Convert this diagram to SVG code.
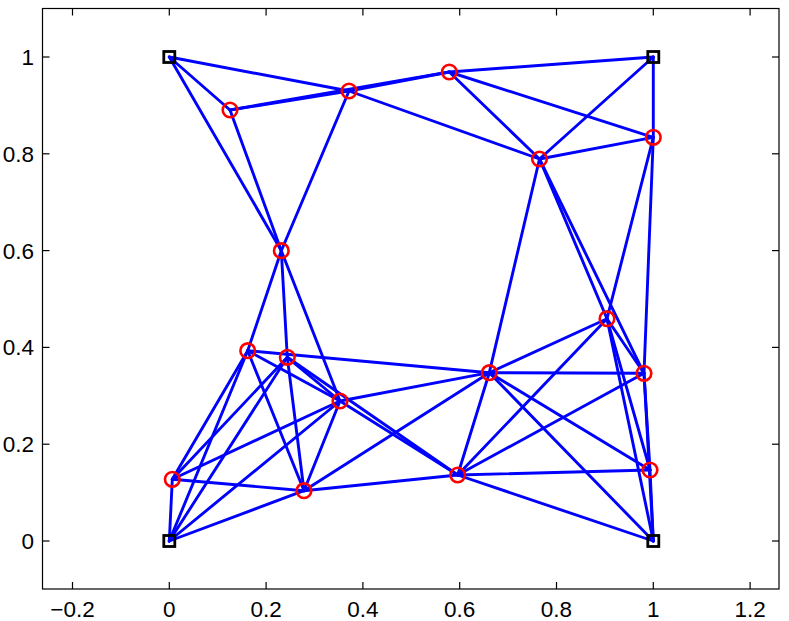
<svg xmlns="http://www.w3.org/2000/svg" width="789" height="621" viewBox="0 0 789 621">
<style>
.ax{fill:none;stroke:#000;stroke-width:1.2}
.tk{stroke:#000;stroke-width:1.2}
.lbl{font-family:"Liberation Sans",Arial,sans-serif;font-size:22.5px;fill:#000}
.e{stroke:#0000ff;stroke-width:2.9;stroke-linecap:round}
.c{fill:none;stroke:#ff0000;stroke-width:2.6}
.s{fill:none;stroke:#000;stroke-width:2.8}
</style>
<rect width="789" height="621" fill="#fff"/>
<g id="axes">
<rect class="ax" x="42.5" y="8.5" width="736.5" height="580.5"/>
<g class="tk">
<line x1="72.5" y1="589" x2="72.5" y2="582"/><line x1="72.5" y1="8.5" x2="72.5" y2="15.5"/>
<line x1="169.3" y1="589" x2="169.3" y2="582"/><line x1="169.3" y1="8.5" x2="169.3" y2="15.5"/>
<line x1="266.1" y1="589" x2="266.1" y2="582"/><line x1="266.1" y1="8.5" x2="266.1" y2="15.5"/>
<line x1="362.9" y1="589" x2="362.9" y2="582"/><line x1="362.9" y1="8.5" x2="362.9" y2="15.5"/>
<line x1="459.7" y1="589" x2="459.7" y2="582"/><line x1="459.7" y1="8.5" x2="459.7" y2="15.5"/>
<line x1="556.5" y1="589" x2="556.5" y2="582"/><line x1="556.5" y1="8.5" x2="556.5" y2="15.5"/>
<line x1="653.3" y1="589" x2="653.3" y2="582"/><line x1="653.3" y1="8.5" x2="653.3" y2="15.5"/>
<line x1="750.1" y1="589" x2="750.1" y2="582"/><line x1="750.1" y1="8.5" x2="750.1" y2="15.5"/>
<line x1="42.5" y1="541" x2="49.5" y2="541"/><line x1="779" y1="541" x2="772" y2="541"/>
<line x1="42.5" y1="444.2" x2="49.5" y2="444.2"/><line x1="779" y1="444.2" x2="772" y2="444.2"/>
<line x1="42.5" y1="347.4" x2="49.5" y2="347.4"/><line x1="779" y1="347.4" x2="772" y2="347.4"/>
<line x1="42.5" y1="250.6" x2="49.5" y2="250.6"/><line x1="779" y1="250.6" x2="772" y2="250.6"/>
<line x1="42.5" y1="153.8" x2="49.5" y2="153.8"/><line x1="779" y1="153.8" x2="772" y2="153.8"/>
<line x1="42.5" y1="57" x2="49.5" y2="57"/><line x1="779" y1="57" x2="772" y2="57"/>
</g>
<g class="lbl" text-anchor="middle">
<text x="72.5" y="617">−0.2</text>
<text x="169.3" y="617">0</text>
<text x="266.1" y="617">0.2</text>
<text x="362.9" y="617">0.4</text>
<text x="459.7" y="617">0.6</text>
<text x="556.5" y="617">0.8</text>
<text x="653.3" y="617">1</text>
<text x="750.1" y="617">1.2</text>
</g>
<g class="lbl" text-anchor="end">
<text x="34" y="549">0</text>
<text x="34" y="452.2">0.2</text>
<text x="34" y="355.4">0.4</text>
<text x="34" y="258.6">0.6</text>
<text x="34" y="161.8">0.8</text>
<text x="34" y="65">1</text>
</g>
</g>
<g id="connectors" class="e">
<line x1="169.3" y1="57" x2="230" y2="110"/>
<line x1="169.3" y1="57" x2="349" y2="91"/>
<line x1="169.3" y1="57" x2="281.3" y2="250.7"/>
<line x1="230" y1="110" x2="349" y2="91"/>
<line x1="230" y1="110" x2="449.3" y2="72"/>
<line x1="349" y1="91" x2="449.3" y2="72"/>
<line x1="230" y1="110" x2="281.3" y2="250.7"/>
<line x1="349" y1="91" x2="281.3" y2="250.7"/>
<line x1="349" y1="91" x2="539.5" y2="159"/>
<line x1="449.3" y1="72" x2="653.3" y2="57"/>
<line x1="449.3" y1="72" x2="539.5" y2="159"/>
<line x1="449.3" y1="72" x2="653.3" y2="137.3"/>
<line x1="653.3" y1="57" x2="539.5" y2="159"/>
<line x1="653.3" y1="57" x2="653.3" y2="137.3"/>
<line x1="539.5" y1="159" x2="653.3" y2="137.3"/>
<line x1="539.5" y1="159" x2="489.3" y2="372.7"/>
<line x1="539.5" y1="159" x2="607" y2="318.7"/>
<line x1="539.5" y1="159" x2="644" y2="373.3"/>
<line x1="653.3" y1="137.3" x2="607" y2="318.7"/>
<line x1="653.3" y1="137.3" x2="644" y2="373.3"/>
<line x1="281.3" y1="250.7" x2="247.7" y2="350.7"/>
<line x1="281.3" y1="250.7" x2="287.3" y2="357.3"/>
<line x1="281.3" y1="250.7" x2="340" y2="401"/>
<line x1="247.7" y1="350.7" x2="489.3" y2="372.7"/>
<line x1="247.7" y1="350.7" x2="340" y2="401"/>
<line x1="247.7" y1="350.7" x2="304" y2="490.7"/>
<line x1="247.7" y1="350.7" x2="172.3" y2="479.3"/>
<line x1="247.7" y1="350.7" x2="169.3" y2="541"/>
<line x1="287.3" y1="357.3" x2="340" y2="401"/>
<line x1="287.3" y1="357.3" x2="304" y2="490.7"/>
<line x1="287.3" y1="357.3" x2="457.7" y2="475"/>
<line x1="287.3" y1="357.3" x2="169.3" y2="541"/>
<line x1="287.3" y1="357.3" x2="172.3" y2="479.3"/>
<line x1="340" y1="401" x2="489.3" y2="372.7"/>
<line x1="340" y1="401" x2="457.7" y2="475"/>
<line x1="340" y1="401" x2="169.3" y2="541"/>
<line x1="340" y1="401" x2="172.3" y2="479.3"/>
<line x1="340" y1="401" x2="304" y2="490.7"/>
<line x1="172.3" y1="479.3" x2="304" y2="490.7"/>
<line x1="172.3" y1="479.3" x2="169.3" y2="541"/>
<line x1="304" y1="490.7" x2="169.3" y2="541"/>
<line x1="304" y1="490.7" x2="457.7" y2="475"/>
<line x1="304" y1="490.7" x2="489.3" y2="372.7"/>
<line x1="457.7" y1="475" x2="489.3" y2="372.7"/>
<line x1="457.7" y1="475" x2="607" y2="318.7"/>
<line x1="457.7" y1="475" x2="644" y2="373.3"/>
<line x1="457.7" y1="475" x2="650" y2="470"/>
<line x1="457.7" y1="475" x2="653.3" y2="541"/>
<line x1="489.3" y1="372.7" x2="607" y2="318.7"/>
<line x1="489.3" y1="372.7" x2="644" y2="373.3"/>
<line x1="489.3" y1="372.7" x2="650" y2="470"/>
<line x1="489.3" y1="372.7" x2="653.3" y2="541"/>
<line x1="607" y1="318.7" x2="644" y2="373.3"/>
<line x1="607" y1="318.7" x2="650" y2="470"/>
<line x1="607" y1="318.7" x2="653.3" y2="541"/>
<line x1="644" y1="373.3" x2="650" y2="470"/>
<line x1="644" y1="373.3" x2="653.3" y2="541"/>
<line x1="650" y1="470" x2="653.3" y2="541"/>
</g>
<g id="anchor-0-1"><rect class="s" x="163.8" y="51.5" width="11" height="11"/></g>
<g id="anchor-1-1"><rect class="s" x="647.8" y="51.5" width="11" height="11"/></g>
<g id="anchor-0-0"><rect class="s" x="163.8" y="535.5" width="11" height="11"/></g>
<g id="anchor-1-0"><rect class="s" x="647.8" y="535.5" width="11" height="11"/></g>
<g id="nA"><circle class="c" cx="230" cy="110" r="7.3"/></g>
<g id="nB"><circle class="c" cx="349" cy="91" r="7.3"/></g>
<g id="nC"><circle class="c" cx="449.3" cy="72" r="7.3"/></g>
<g id="nD"><circle class="c" cx="539.5" cy="159" r="7.3"/></g>
<g id="nE"><circle class="c" cx="653.3" cy="137.3" r="7.3"/></g>
<g id="nF"><circle class="c" cx="281.3" cy="250.7" r="7.3"/></g>
<g id="nG"><circle class="c" cx="247.7" cy="350.7" r="7.3"/></g>
<g id="nH"><circle class="c" cx="287.3" cy="357.3" r="7.3"/></g>
<g id="nI"><circle class="c" cx="340" cy="401" r="7.3"/></g>
<g id="nJ"><circle class="c" cx="172.3" cy="479.3" r="7.3"/></g>
<g id="nK"><circle class="c" cx="304" cy="490.7" r="7.3"/></g>
<g id="nL"><circle class="c" cx="457.7" cy="475" r="7.3"/></g>
<g id="nM"><circle class="c" cx="489.3" cy="372.7" r="7.3"/></g>
<g id="nN"><circle class="c" cx="607" cy="318.7" r="7.3"/></g>
<g id="nO"><circle class="c" cx="644" cy="373.3" r="7.3"/></g>
<g id="nP"><circle class="c" cx="650" cy="470" r="7.3"/></g>
</svg>
